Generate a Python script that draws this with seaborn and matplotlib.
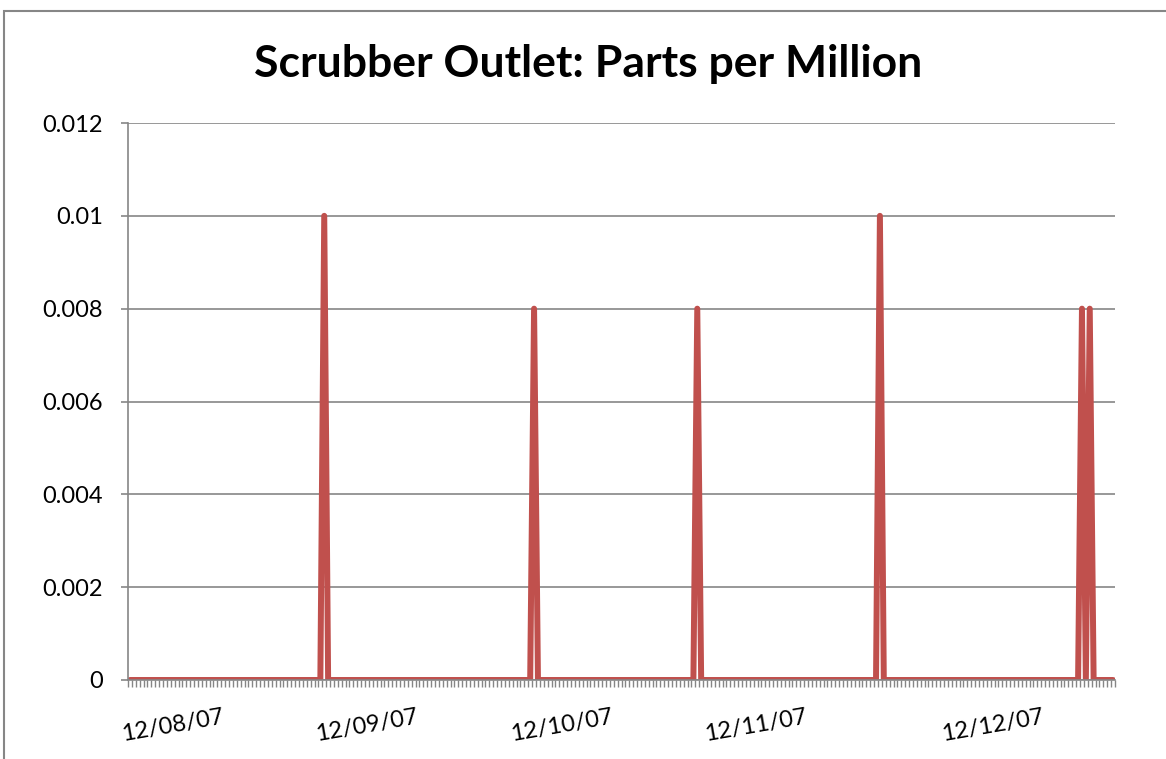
import numpy as np
import pandas as pd
import matplotlib
matplotlib.use('Agg')
import matplotlib.pyplot as plt
import seaborn as sns
from matplotlib.ticker import FixedLocator, FuncFormatter
from matplotlib.patches import Rectangle

# ---- Data ----
n_readings = 254
spike_idx = [50, 104, 146, 193, 245, 247]
spike_ppm = [0.01, 0.008, 0.008, 0.01, 0.008, 0.008]
label_idx = [11, 61, 111, 161, 222]
label_txt = ['12/08/07', '12/09/07', '12/10/07', '12/11/07', '12/12/07']
y_ticks = [0, 0.002, 0.004, 0.006, 0.008, 0.01, 0.012]

ppm = np.zeros(n_readings)
ppm[spike_idx] = spike_ppm
df = pd.DataFrame({'reading': np.arange(n_readings), 'ppm': ppm})

sns.set_style('white')
plt.rcParams['font.family'] = ['Lato', 'DejaVu Sans']

grey = '#868686'
fig = plt.figure(figsize=(11.66, 7.59), dpi=100)
ax = fig.add_axes([128 / 1166, 79 / 759, 987 / 1166, 557 / 759])

# chart area border (only left and top edges are inside the picture)
fig.patches.append(Rectangle((4 / 1166, -0.5), 2, 0.5 + 1 - 11 / 759, transform=fig.transFigure,
                             fill=False, edgecolor=grey, linewidth=1.5))

sns.lineplot(data=df, x='reading', y='ppm', color='#C0504D', linewidth=4.3, ax=ax)

ax.set_xlim(-0.5, n_readings - 0.5)
ax.set_ylim(0, 0.012)
ax.set_yticks(y_ticks)
ax.yaxis.set_major_formatter(FuncFormatter(lambda v, p: '0' if v == 0 else f'{v:g}'))
ax.grid(axis='y', color=grey, linewidth=1.2)
ax.set_axisbelow(True)

ax.set_xticks(label_idx)
ax.set_xticklabels(label_txt, rotation=10, ha='center')
ax.xaxis.set_minor_locator(FixedLocator(np.arange(-0.5, n_readings, 1.0)))
ax.tick_params(axis='x', which='major', length=0, pad=19, labelsize=17, labelcolor='black')
ax.tick_params(axis='x', which='minor', length=5, width=1, color=grey, direction='out', bottom=True)
ax.tick_params(axis='y', length=5, width=1.2, color=grey, direction='out', left=True, pad=13,
               labelsize=17, labelcolor='black')

for side in ['top', 'right']:
    ax.spines[side].set_visible(False)
for side in ['left', 'bottom']:
    ax.spines[side].set_color(grey)
    ax.spines[side].set_linewidth(1.2)

ax.set_xlabel('')
ax.set_ylabel('')
fig.text(588 / 1166, 1 - 64 / 759, 'Scrubber Outlet: Parts per Million', ha='center', va='center',
         fontsize=32, fontweight='bold', color='black')

fig.savefig('out.png', dpi=100)
